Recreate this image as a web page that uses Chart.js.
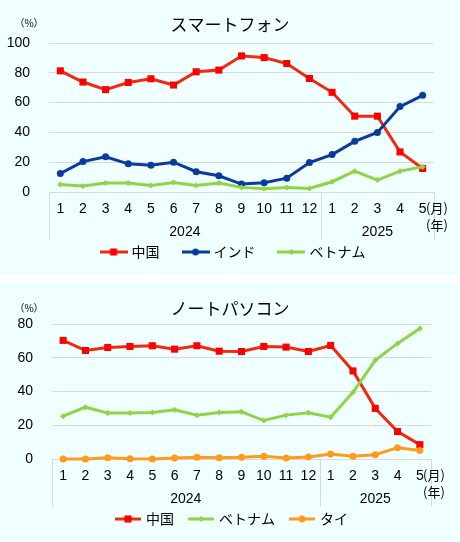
<!DOCTYPE html>
<html>
<head>
<meta charset="utf-8">
<script src="https://cdn.jsdelivr.net/npm/chart.js@4.4.1/dist/chart.umd.min.js"></script>
<style>
  body { margin: 0; background: #fff; }
  .panel { width: 460px; background: #f0ffff; }
  #top { height: 275px; }
  #bottom { height: 260px; margin-top: 7px; }
  canvas { display: block; }
</style>
</head>
<body>
<div class="panel" id="top"><canvas id="phoneChart" width="460" height="275"></canvas></div>
<div class="panel" id="bottom"><canvas id="pcChart" width="460" height="260"></canvas></div>
<script>
// categories
const months = ["1", "2", "3", "4", "5", "6", "7", "8", "9", "10", "11", "12", "1", "2", "3", "4", "5"];
const years = ["2024", "2025"];
const yearSpans = [12, 5];

// スマートフォン (%)
const phoneChina = [81.3, 73.8, 68.7, 73.5, 76, 71.8, 80.7, 81.8, 91.3, 90.2, 86.2, 76.2, 66.9, 50.9, 50.9, 26.9, 15.8];
const phoneIndia = [12.4, 20.4, 23.6, 18.9, 18, 20, 13.6, 10.9, 5.3, 6.2, 9.3, 19.8, 25.1, 34, 40, 57.3, 64.9];
const phoneVietnam = [5.1, 4, 6, 6, 4.4, 6.4, 4.4, 6, 3.1, 2.2, 3.1, 2.4, 6.9, 14, 8, 14, 16.9];

// ノートパソコン (%)
const pcChina = [70.3, 64.3, 66.1, 66.7, 67.1, 65.1, 67.1, 63.9, 63.7, 66.7, 66.3, 63.7, 67.3, 52.2, 30, 16.3, 8.5];
const pcVietnam = [25.4, 30.7, 27.2, 27.2, 27.6, 29.2, 26, 27.6, 28, 22.8, 26, 27.4, 24.8, 39.5, 58.5, 68.5, 77.4];
const pcThai = [0, 0, 0.8, 0.2, 0, 0.6, 1, 0.8, 1, 1.6, 0.6, 1.2, 3, 1.6, 2.5, 6.7, 5];

const numFont = "'Liberation Sans Narrow', 'Arial Narrow', 'Liberation Sans', Arial, sans-serif";
const jpFont = "'Noto Sans CJK JP', sans-serif";
const gridColor = "#d9d9d9";

const RED = "#ee2a10", RED_MARK = "#ff0000";
const BLUE = "#0b3a9e";
const GREEN = "#8fd444";
const ORANGE = "#ff9a1a";

// year labels, group separators, title and unit text
const decor = {
  id: "decor",
  afterLayout(chart, args, opts) {
    // legend sits centred on the whole panel, not on the padded area
    if (chart.legend) {
      chart.legend.left += opts.legendShift;
      chart.legend.right += opts.legendShift;
    }
  },
  afterDraw(chart, args, opts) {
    const ctx = chart.ctx;
    const x = chart.scales.x;
    const area = chart.chartArea;
    const step = (x.right - x.left) / months.length;
    const edges = [0];
    let n = 0;
    yearSpans.forEach((s) => { n += s; edges.push(n); });

    ctx.save();
    ctx.strokeStyle = gridColor;
    ctx.lineWidth = 1;
    edges.forEach((i) => {
      const px = Math.round(x.left + step * i) + 0.5;
      ctx.beginPath();
      ctx.moveTo(px, area.bottom);
      ctx.lineTo(px, area.bottom + 48);
      ctx.stroke();
    });

    ctx.fillStyle = "#000";
    ctx.textBaseline = "middle";
    ctx.textAlign = "center";
    ctx.font = "14px " + numFont;
    years.forEach((y, k) => {
      ctx.fillText(y, x.left + step * (edges[k] + edges[k + 1]) / 2, area.bottom + 40);
    });

    ctx.textAlign = "left";
    ctx.font = "13px " + jpFont;
    ctx.fillText("(月)", x.right - 8, area.bottom + 16);
    ctx.fillText("(年)", x.right - 8, area.bottom + 33);

    ctx.textAlign = "center";
    ctx.font = "17px " + jpFont;
    ctx.fillText(opts.title, chart.width / 2, opts.titleY);
    ctx.font = "10px " + jpFont;
    ctx.fillText("（%）", 29, opts.unitY);
    ctx.restore();
  },
};

function legendIcon(color, markColor, style, radius, width) {
  const c = document.createElement("canvas");
  c.width = width;
  c.height = 12;
  const g = c.getContext("2d");
  g.strokeStyle = color;
  g.lineWidth = 3;
  g.beginPath();
  g.moveTo(0, 6);
  g.lineTo(width, 6);
  g.stroke();
  g.fillStyle = markColor;
  g.strokeStyle = markColor;
  Chart.helpers.drawPoint(g, { pointStyle: style, radius: radius, borderWidth: 0, rotation: 0 }, width / 2, 6);
  return c;
}

function series(label, data, color, markColor, style, radius, order) {
  return {
    label: label,
    data: data,
    borderColor: color,
    backgroundColor: markColor,
    pointBackgroundColor: markColor,
    pointBorderColor: markColor,
    pointBorderWidth: 0,
    pointStyle: style,
    pointRadius: radius,
    borderWidth: 3,
    tension: 0,
    clip: false,
    order: order,
  };
}

function buildChart(id, datasets, icons, cfg) {
  new Chart(document.getElementById(id), {
    type: "line",
    data: { labels: months, datasets: datasets },
    options: {
      responsive: false,
      animation: false,
      layout: { padding: { top: cfg.top, right: cfg.right, bottom: 6, left: 0 } },
      scales: {
        x: {
          offset: true,
          grid: { display: false, drawTicks: false },
          border: { display: true, color: gridColor },
          ticks: { autoSkip: false, maxRotation: 0, padding: 9, color: "#000", font: { family: numFont, size: 14 } },
          afterFit(s) { s.height = cfg.axisH; },
        },
        y: {
          min: 0,
          max: cfg.max,
          ticks: { stepSize: 20, padding: cfg.tickPad, color: "#000", font: { family: numFont, size: 14 } },
          grid: { color: gridColor, drawTicks: false },
          border: { display: false },
          afterFit(s) { s.width = cfg.left; },
        },
      },
      plugins: {
        tooltip: { enabled: false },
        legend: {
          position: "bottom",
          labels: {
            usePointStyle: true,
            pointStyleWidth: 22,
            padding: cfg.legendPad,
            color: "#000",
            font: { family: jpFont, size: 14 },
            sort: (a, b) => a.datasetIndex - b.datasetIndex,
            generateLabels(chart) {
              const items = Chart.defaults.plugins.legend.labels.generateLabels(chart);
              items.forEach((it) => { it.pointStyle = icons[it.datasetIndex]; });
              return items;
            },
          },
        },
        decor: { title: cfg.title, titleY: cfg.titleY, unitY: cfg.unitY, legendShift: 17 },
      },
    },
    plugins: [decor],
  });
}

buildChart(
  "phoneChart",
  [
    series("中国", phoneChina, RED, RED_MARK, "rect", 5, 3),
    series("インド", phoneIndia, BLUE, BLUE, "circle", 3.5, 2),
    series("ベトナム", phoneVietnam, GREEN, GREEN, "rectRot", 3, 1),
  ],
  [
    legendIcon(RED, RED_MARK, "rect", 5, 28),
    legendIcon(BLUE, BLUE, "circle", 3.5, 28),
    legendIcon(GREEN, GREEN, "rectRot", 3, 28),
  ],
  { title: "スマートフォン", titleY: 25, unitY: 23, top: 43, right: 26, left: 49, max: 100, tickPad: 19, axisH: 28, legendPad: 25 }
);

buildChart(
  "pcChart",
  [
    series("中国", pcChina, RED, RED_MARK, "rect", 5, 3),
    series("ベトナム", pcVietnam, GREEN, GREEN, "rectRot", 3, 2),
    series("タイ", pcThai, ORANGE, ORANGE, "circle", 3.5, 1),
  ],
  [
    legendIcon(RED, RED_MARK, "rect", 5, 26),
    legendIcon(GREEN, GREEN, "rectRot", 3, 26),
    legendIcon(ORANGE, ORANGE, "circle", 3.5, 26),
  ],
  { title: "ノートパソコン", titleY: 27, unitY: 26, top: 42, right: 29, left: 52, max: 80, tickPad: 19, axisH: 37, legendPad: 16 }
);
</script>
</body>
</html>
